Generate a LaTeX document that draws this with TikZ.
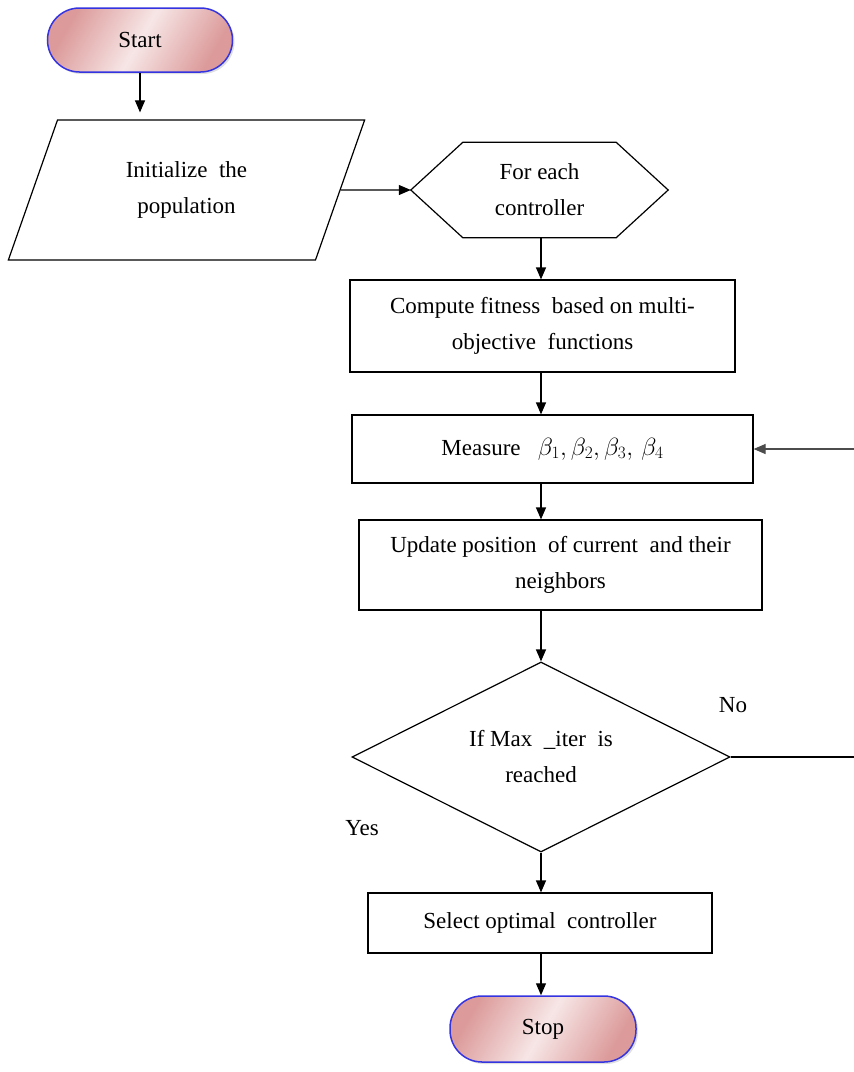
\documentclass[tikz,border=0pt]{standalone}
\usepackage{fontspec}
\setmainfont{Liberation Serif}
\usetikzlibrary{shapes.geometric,arrows.meta,shadows}
\definecolor{pinkD}{HTML}{DC9A9A}
\definecolor{pinkL}{HTML}{F7E6E6}
\definecolor{termB}{HTML}{3434E0}
\tikzset{
  every node/.style={font=\fontsize{23}{36}\selectfont, align=center},
  term/.style={rounded corners=32pt, draw=termB, line width=1.5pt, shading=axis,
    left color=pinkD, right color=pinkD, middle color=pinkL, shading angle=60,
    drop shadow={opacity=0.25, shadow xshift=2pt, shadow yshift=-2pt}},
  procbox/.style={draw, line width=1.2pt, rectangle},
  iobox/.style={draw, line width=1.2pt, trapezium, trapezium left angle=69,
    trapezium right angle=111, trapezium stretches=true},
  decbox/.style={draw, line width=1.2pt, diamond, aspect=2, inner sep=0pt},
  arr/.style={-{Triangle[length=12pt,width=10pt]}, line width=1.2pt},
  link/.style={line width=1.2pt},
}
\begin{document}
\begin{tikzpicture}[x=1pt,y=-1pt]
\useasboundingbox (0,0) rectangle (854,1072);
% nodes
\node[term, minimum width=185pt, minimum height=64pt] (start) at (140,40) {Start};
\node[iobox, minimum width=357pt, minimum height=140pt] (init) at (186.5,190) {Initialize~~the\\population};
\node[minimum width=257pt, minimum height=95pt] (hex) at (539.5,190) {For each\\controller};
\draw[line width=1.2pt] (hex.west) -- ([xshift=52pt]hex.north west) -- ([xshift=-52pt]hex.north east)
  -- (hex.east) -- ([xshift=-52pt]hex.south east) -- ([xshift=52pt]hex.south west) -- cycle;
\node[procbox, minimum width=385pt, minimum height=92pt] (fit) at (542.5,326) {Compute fitness~ based on multi-\\objective~ functions};
\node[procbox, minimum width=401pt, minimum height=68pt] (meas) at (552.5,449) {Measure~~~$\beta_1,\beta_2,\beta_3,\,\beta_4$};
\node[procbox, minimum width=403pt, minimum height=90pt] (upd) at (560.5,565) {Update position~ of current~ and their\\neighbors};
\node[decbox, minimum width=378pt, minimum height=190pt] (dec) at (541,757) {If Max~~\_iter~ is\\reached};
\node[procbox, minimum width=344pt, minimum height=60pt] (sel) at (540,923) {Select optimal~~controller};
\node[term, minimum width=186pt, minimum height=66pt] (stop) at (543,1029) {Stop};
\node (no) at (733,705) {No};
\node (yes) at (362,828) {Yes};
\coordinate (loopB) at (854,757);
\coordinate (loopT) at (854,449);
% connectors
\draw[arr, shorten >=7pt] (start.south) -- (start.south |- init.north);
\draw[arr] (init.east) -- (hex.west);
\draw[arr] (hex.south -| dec.center) -- (fit.north -| dec.center);
\draw[arr] (fit.south -| dec.center) -- (meas.north -| dec.center);
\draw[arr] (meas.south -| dec.center) -- (upd.north -| dec.center);
\draw[arr] (upd.south -| dec.center) -- (dec.north);
\draw[arr] (dec.south) -- (sel.north -| dec.center);
\draw[arr] (sel.south -| dec.center) -- (stop.north -| dec.center);
\draw[link] (dec.east) -- (loopB);
\draw[arr, draw=black!70] (loopT) -- (meas.east);
\end{tikzpicture}
\end{document}
